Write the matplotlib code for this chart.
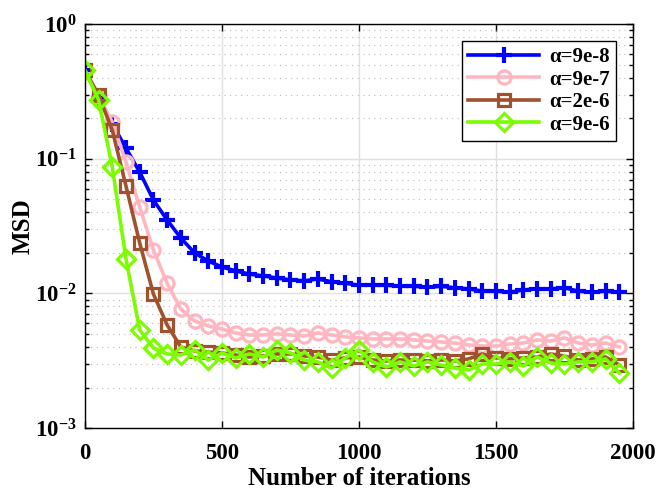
import numpy as np
import matplotlib
matplotlib.use("Agg")
import matplotlib.pyplot as plt
from matplotlib.ticker import LogLocator, NullFormatter, FixedLocator

plt.rcParams['font.family'] = ['Liberation Serif', 'DejaVu Serif']
plt.rcParams['font.weight'] = 'bold'
plt.rcParams['mathtext.fontset'] = 'custom'
plt.rcParams['mathtext.rm'] = 'Liberation Serif:bold'
plt.rcParams['mathtext.bf'] = 'Liberation Serif:bold'
plt.rcParams['mathtext.it'] = 'Liberation Serif:bold:italic'

iterations = list(range(0, 2000, 50))

labels = ['α=9e-8', 'α=9e-7', 'α=2e-6', 'α=9e-6']

msd_9e8 = [0.455, 0.282, 0.181, 0.120, 0.0796, 0.0494, 0.0351, 0.0258, 0.0200, 0.0174,
           0.0157, 0.0147, 0.0139, 0.0135, 0.0130, 0.0126, 0.0124, 0.0128, 0.0122, 0.0119,
           0.0115, 0.0115, 0.0115, 0.0113, 0.0113, 0.0111, 0.0113, 0.0110, 0.0108, 0.0104,
           0.0104, 0.0102, 0.0106, 0.0108, 0.0108, 0.0110, 0.0104, 0.0102, 0.0104, 0.0102]

msd_9e7 = [0.455, 0.292, 0.187, 0.0945, 0.0438, 0.0210, 0.0119, 0.00766, 0.00624, 0.00573,
           0.00544, 0.00508, 0.00491, 0.00491, 0.00500, 0.00491, 0.00483, 0.00508, 0.00491, 0.00475,
           0.00467, 0.00459, 0.00459, 0.00459, 0.00451, 0.00443, 0.00436, 0.00428, 0.00414, 0.00407,
           0.00407, 0.00421, 0.00428, 0.00451, 0.00443, 0.00467, 0.00428, 0.00414, 0.00428, 0.00400]

msd_2e6 = [0.455, 0.297, 0.163, 0.0627, 0.0237, 0.0099, 0.00583, 0.00400, 0.00374, 0.00367,
           0.00361, 0.00349, 0.00337, 0.00343, 0.00355, 0.00355, 0.00343, 0.00337, 0.00320, 0.00332,
           0.00337, 0.00320, 0.00315, 0.00320, 0.00320, 0.00315, 0.00320, 0.00315, 0.00326, 0.00355,
           0.00332, 0.00326, 0.00332, 0.00337, 0.00355, 0.00343, 0.00320, 0.00326, 0.00337, 0.00294]

msd_9e6 = [0.455, 0.273, 0.0868, 0.0180, 0.00535, 0.00393, 0.00355, 0.00349, 0.00380, 0.00320,
           0.00361, 0.00332, 0.00355, 0.00337, 0.00380, 0.00361, 0.00320, 0.00310, 0.00279, 0.00332,
           0.00380, 0.00310, 0.00284, 0.00310, 0.00289, 0.00310, 0.00294, 0.00279, 0.00270, 0.00299,
           0.00299, 0.00310, 0.00289, 0.00337, 0.00304, 0.00299, 0.00310, 0.00310, 0.00326, 0.00256]

series = [msd_9e8, msd_9e7, msd_2e6, msd_9e6]
colors = ['#0000ff', '#ffb6c1', '#a0522d', '#7cfc00']
markers = ['+', 'o', 's', 'D']
msizes = [12, 9.5, 8.5, 9.5]

fig = plt.figure(figsize=(6.58, 4.92), dpi=100)
ax = fig.add_axes([0.129, 0.130, 0.833, 0.821])

for y, c, m, ms, lab in zip(series, colors, markers, msizes, labels):
    kw = dict(markerfacecolor='none', markeredgecolor=c, markeredgewidth=2.3)
    if m == '+':
        kw = dict(markeredgecolor=c, markeredgewidth=3.0)
    ax.plot(iterations, y, color=c, linewidth=2.6, marker=m, markersize=ms, label=lab, **kw)

ax.set_yscale('log')
ax.set_xlim(0, 2000)
ax.set_ylim(1e-3, 1)
ax.xaxis.set_major_locator(FixedLocator([0, 500, 1000, 1500, 2000]))
ax.set_xticklabels(['0', '500', '1000', '1500', '2000'])
ax.yaxis.set_major_locator(FixedLocator([1e-3, 1e-2, 1e-1, 1]))
ax.set_yticklabels([r'$10^{-3}$', r'$10^{-2}$', r'$10^{-1}$', r'$10^{0}$'])
ax.yaxis.set_minor_locator(LogLocator(base=10, subs=np.arange(2, 10), numticks=20))
ax.yaxis.set_minor_formatter(NullFormatter())

ax.grid(True, which='major', color='#e0e0e0', linestyle='-', linewidth=1.0)
ax.grid(True, which='minor', axis='y', color='#bbbbbb', linestyle=(0, (1, 4)), linewidth=0.8)
ax.set_axisbelow(True)

ax.tick_params(which='both', direction='in', top=True, right=True, labelsize=16.5, width=1.0)
ax.tick_params(axis='x', pad=11)
ax.tick_params(axis='y', pad=6)
ax.tick_params(which='major', length=5)
ax.tick_params(which='minor', length=3)
for s in ax.spines.values():
    s.set_linewidth(1.0)

ax.set_xlabel('Number of iterations', fontsize=18, fontweight='bold', labelpad=2)
ax.set_ylabel('MSD', fontsize=18, fontweight='bold', labelpad=0)

leg = ax.legend(loc='upper right', fontsize=15, frameon=True, fancybox=False,
                edgecolor='black', framealpha=1, borderaxespad=0.8, handlelength=3.4,
                labelspacing=0.12, borderpad=0.3, handletextpad=0.5)
leg.get_frame().set_linewidth(1.0)

fig.savefig('out.png', dpi=100)
